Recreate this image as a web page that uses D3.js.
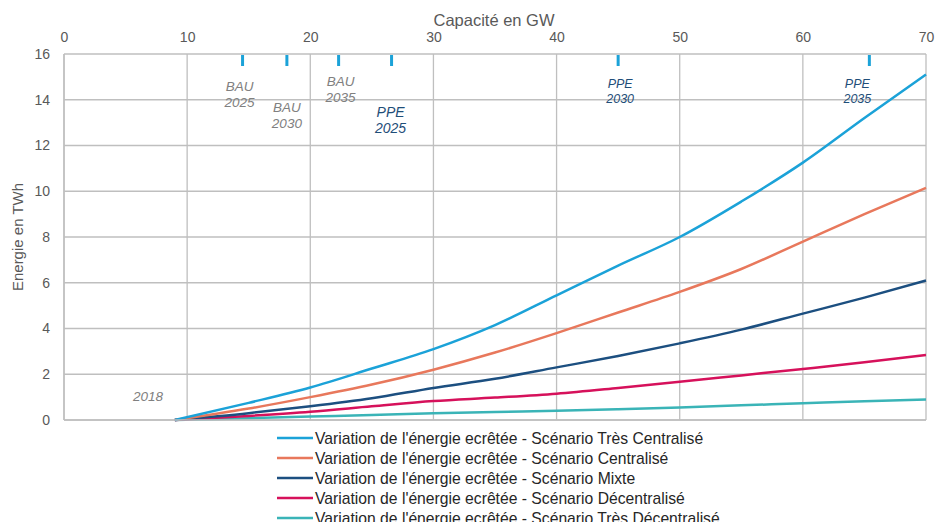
<!DOCTYPE html>
<html><head><meta charset="utf-8">
<script src="https://cdn.jsdelivr.net/npm/d3@7"></script>
<style>body{margin:0;background:#fff;} svg{display:block;font-family:"Liberation Sans",Arial,sans-serif;}</style>
</head><body><svg id="c" width="935" height="522"></svg>
<script>
const capacities = [9,15,20,25,30,35,40,45,50,55,60,65,70];
const tresCentralise = [0,0.75,1.42,2.25,3.1,4.15,5.45,6.75,8.0,9.55,11.25,13.2,15.1];
const centralise = [0,0.5,1.0,1.55,2.2,2.95,3.8,4.7,5.6,6.6,7.8,9.0,10.15];
const mixte = [0,0.3,0.6,0.95,1.4,1.8,2.3,2.8,3.35,3.95,4.65,5.35,6.1];
const decentralise = [0,0.18,0.36,0.6,0.83,0.98,1.15,1.4,1.67,1.95,2.23,2.52,2.84];
const tresDecentralise = [0,0.08,0.15,0.22,0.3,0.35,0.4,0.47,0.55,0.64,0.73,0.82,0.9];
const seriesNames = [
 "Variation de l'énergie ecrêtée - Scénario Très Centralisé",
 "Variation de l'énergie ecrêtée - Scénario Centralisé",
 "Variation de l'énergie ecrêtée - Scénario Mixte",
 "Variation de l'énergie ecrêtée - Scénario Décentralisé",
 "Variation de l'énergie ecrêtée - Scénario Très Décentralisé"];
const seriesColors = ["#1ba2d8","#e8785c","#1c4f80","#d6115b","#3ab4b7"];
const xTicks = [0,10,20,30,40,50,60,70];
const yTicks = [0,2,4,6,8,10,12,14,16];
const markers = [
 {x:14.5, l1:"BAU", l2:"2025", kind:"bau", dy:37, ox:-3},
 {x:18.1, l1:"BAU", l2:"2030", kind:"bau", dy:58, ox:0},
 {x:22.3, l1:"BAU", l2:"2035", kind:"bau", dy:32, ox:2},
 {x:26.6, l1:"PPE", l2:"2025", kind:"ppeL", dy:63, ox:-1},
 {x:45.0, l1:"PPE", l2:"2030", kind:"ppe", dy:34, ox:2},
 {x:65.4, l1:"PPE", l2:"2035", kind:"ppe", dy:34, ox:-12}];

const svg = d3.select("#c");
const L=64, R=926, T=54, B=420;
const x = d3.scaleLinear().domain([0,70]).range([L,R]);
const y = d3.scaleLinear().domain([0,16]).range([B,T]);
const grid = "#bfbfbf", tickCol = "#595959";

// grid
svg.append("g").selectAll("line").data(yTicks).join("line")
 .attr("x1",L).attr("x2",R).attr("y1",d=>y(d)).attr("y2",d=>y(d))
 .attr("stroke",grid).attr("stroke-width",1.3);
svg.append("g").selectAll("line").data(xTicks).join("line")
 .attr("y1",T).attr("y2",B).attr("x1",d=>x(d)).attr("x2",d=>x(d))
 .attr("stroke",grid).attr("stroke-width",1.3);

// axes labels
const gx = svg.append("g").attr("transform",`translate(0,${T})`)
 .call(d3.axisTop(x).tickValues(xTicks).tickSize(0).tickPadding(12));
gx.select(".domain").remove();
gx.selectAll("text").attr("fill",tickCol).style("font-size","14px").style("font-family","Liberation Sans, Arial, sans-serif");
const gy = svg.append("g").attr("transform",`translate(${L},0)`)
 .call(d3.axisLeft(y).tickValues(yTicks).tickSize(0).tickPadding(14));
gy.select(".domain").remove();
gy.selectAll("text").attr("fill",tickCol).style("font-size","14px").style("font-family","Liberation Sans, Arial, sans-serif");

svg.append("text").attr("x",494).attr("y",26).attr("text-anchor","middle")
 .attr("fill",tickCol).style("font-size","16.5px").text("Capacité en GW");
svg.append("text").attr("transform",`translate(23,${(T+B)/2}) rotate(-90)`).attr("text-anchor","middle")
 .attr("fill",tickCol).style("font-size","15px").text("Energie en TWh");

// markers
markers.forEach(m=>{
 svg.append("line").attr("x1",x(m.x)).attr("x2",x(m.x)).attr("y1",T+1).attr("y2",T+12)
  .attr("stroke","#1ba2d8").attr("stroke-width",3);
 const col = m.kind==="bau" ? "#808080" : "#1f4e79";
 const fs = m.kind==="ppeL" ? 14 : (m.kind==="bau" ? 13.5 : 12.5);
 const lh = m.kind==="ppe" ? 15 : 16;
 const t = svg.append("text").attr("text-anchor","middle").attr("fill",col)
  .style("font-size",fs+"px").style("font-style","italic");
 t.append("tspan").attr("x",x(m.x)+m.ox).attr("y",T+m.dy).text(m.l1);
 t.append("tspan").attr("x",x(m.x)+m.ox).attr("y",T+m.dy+lh).text(m.l2);
});
svg.append("text").attr("x",148).attr("y",401).attr("text-anchor","middle").attr("fill","#808080")
 .style("font-size","13.5px").style("font-style","italic").text("2018");

// lines
const allSeries = [tresCentralise, centralise, mixte, decentralise, tresDecentralise];
const line = d3.line().x((d,i)=>x(capacities[i])).y(d=>y(d)).curve(d3.curveMonotoneX);
allSeries.slice().reverse().forEach((s,ri)=>{
 const i = allSeries.length-1-ri;
 svg.append("path").attr("d",line(s)).attr("fill","none")
  .attr("stroke",seriesColors[i]).attr("stroke-width",2.5);
});

// frame (left/bottom axis lines)
svg.append("line").attr("x1",L).attr("x2",L).attr("y1",T).attr("y2",B).attr("stroke",grid).attr("stroke-width",1.5);
svg.append("line").attr("x1",L).attr("x2",R).attr("y1",B).attr("y2",B).attr("stroke",grid).attr("stroke-width",1.5);

// legend
const lg = svg.append("g");
seriesNames.forEach((n,i)=>{
 const cy = 438 + i*20;
 lg.append("line").attr("x1",277).attr("x2",313).attr("y1",cy).attr("y2",cy)
  .attr("stroke",seriesColors[i]).attr("stroke-width",2.5);
 lg.append("text").attr("x",315).attr("y",cy+6).attr("fill","#262626")
  .style("font-size","15.7px").text(n);
});
</script></body></html>
